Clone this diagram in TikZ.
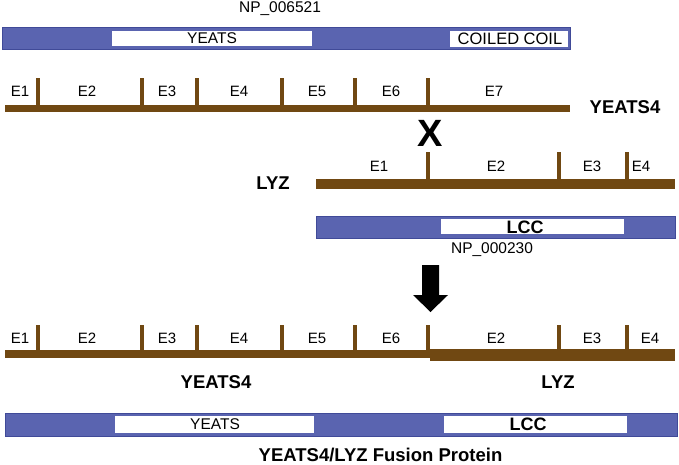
\documentclass[tikz,border=0pt]{standalone}
\usepackage{fontspec}
\setmainfont{Liberation Sans}
\usetikzlibrary{positioning}
\definecolor{domblue}{RGB}{90,100,176}
\definecolor{domedge}{RGB}{64,74,152}
\definecolor{exonbrown}{RGB}{112,72,18}

\begin{document}
\begin{tikzpicture}[x=1pt,y=-1pt,
  gene/.style={exonbrown,line width=#1},
  gene/.default=7pt,
  bound/.style={exonbrown,line width=3.5pt},
  exonlab/.style={font=\fontsize{15}{18}\selectfont,inner sep=0pt},
  genelab/.style={font=\bfseries\fontsize{18.5}{22}\selectfont,inner sep=0pt},
  protlab/.style={font=\fontsize{15.5}{18}\selectfont,inner sep=0pt},
  lcclab/.style={font=\bfseries\fontsize{18}{20}\selectfont,inner sep=0pt},
  protein/.style={fill=domblue,draw=domedge,line width=1pt},
  dombox/.style={fill=white}]
  \useasboundingbox (0,0) rectangle (679,464);
  \fill[white] (0,0) rectangle (679,464);

  % YEATS4 protein
  \node[protlab] (np1) at (280,9) {NP\_006521};
  \draw[protein] (2,27.5) rectangle (570,49);
  \fill[dombox] (112,31) rectangle (312,46);
  \fill[dombox] (450,31) rectangle (568,47);
  \node[protlab] (yeats1) at (212,38.5) {YEATS};
  \node[protlab,font=\fontsize{16.5}{18}\selectfont] (coil) at (510,39) {COILED COIL};

  % YEATS4 gene
  \draw[gene] (5,108) -- (570,108);
  \foreach \x in {38,142,197,282,355,428}
    \draw[bound] (\x,78) -- (\x,108);
  \foreach \x/\t [count=\i] in {20/E1,87/E2,167/E3,239/E4,317/E5,391/E6,494/E7}
    \node[exonlab] (ya\i) at (\x,91) {\t};
  \node[genelab] (yeatsgene) at (625,107) {YEATS4};

  \node[font=\bfseries\fontsize{38}{40}\selectfont,inner sep=0pt] (cross) at (430,133) {X};

  % LYZ gene
  \draw[gene=10pt] (316,184) -- (675,184);
  \foreach \x in {428,559,627}
    \draw[bound] (\x,152) -- (\x,184);
  \foreach \x/\t [count=\i] in {379/E1,496/E2,592/E3,641/E4}
    \node[exonlab] (lz\i) at (\x,166) {\t};
  \node[genelab] (lyzgene) at (273,183) {LYZ};

  % LYZ protein
  \draw[protein] (316,216) rectangle (675,238);
  \fill[dombox] (441,219) rectangle (624,234);
  \node[lcclab] (lcc1) at (525,227) {LCC};
  \node[protlab] (np2) at (492,250) {NP\_000230};

  % fusion arrow
  \fill[black] (422,265) -- (439,265) -- (439,295) -- (448,295) -- (430.5,312)
    -- (413,295) -- (422,295) -- cycle;

  % fusion gene
  \draw[gene=8pt] (5,354) -- (430,354);
  \draw[gene=12pt] (430,354.5) -- (675,354.5);
  \foreach \x in {38,142,197,282,355,428,559,627}
    \draw[bound] (\x,325) -- (\x,354);
  \foreach \x/\t [count=\i] in {20/E1,87/E2,167/E3,239/E4,317/E5,391/E6,496/E2,592/E3,650/E4}
    \node[exonlab] (fu\i) at (\x,338) {\t};
  \node[genelab] (yeatspart) at (216,382) {YEATS4};
  \node[genelab] (lyzpart) at (558,382) {LYZ};

  % fusion protein
  \draw[protein] (5,413) rectangle (677,436);
  \fill[dombox] (115,416) rectangle (314,433);
  \fill[dombox] (444,416) rectangle (627,433);
  \node[protlab] (yeats2) at (215,424) {YEATS};
  \node[lcclab] (lcc2) at (528,424) {LCC};
  \node[genelab] (fusion) at (380.5,455) {YEATS4/LYZ Fusion Protein};
\end{tikzpicture}
\end{document}
